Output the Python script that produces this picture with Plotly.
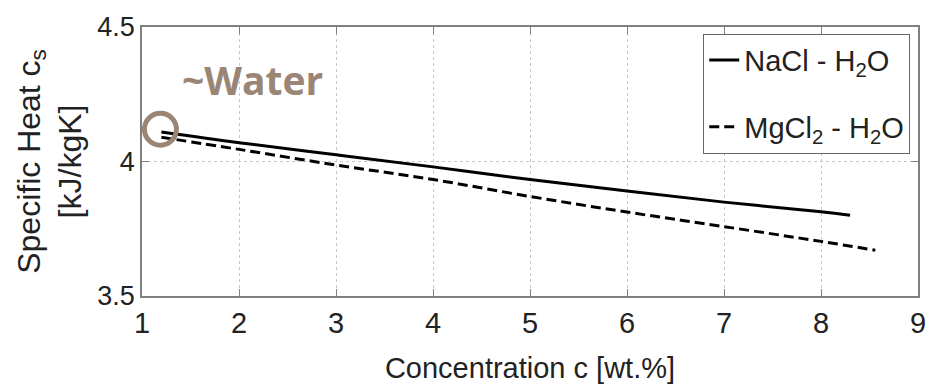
import plotly.graph_objects as go

# Data
nacl_c = [1.2, 2, 3, 4, 5, 6, 7, 8, 8.3]
nacl_cs = [4.11, 4.07, 4.025, 3.98, 3.933, 3.89, 3.849, 3.813, 3.80]
mgcl_c = [1.2, 2, 3, 4, 5, 6, 7, 8, 8.56]
mgcl_cs = [4.09, 4.045, 3.987, 3.933, 3.870, 3.812, 3.758, 3.703, 3.67]
x_ticks = [1, 2, 3, 4, 5, 6, 7, 8, 9]
y_ticks = [3.5, 4, 4.5]
y_tick_labels = ["3.5", "4", "4.5"]

AX = "#808080"
BROWN = "#9b8575"
FONT = "Liberation Sans, Arial, sans-serif"

fig = go.Figure()
fig.add_trace(go.Scatter(x=nacl_c, y=nacl_cs, mode="lines", name="NaCl - H<sub>2</sub>O",
                         legendgroup="a",
                         line=dict(color="black", width=3), line_shape="spline"))
fig.add_trace(go.Scatter(x=mgcl_c, y=mgcl_cs, mode="lines", name="MgCl<sub>2</sub> - H<sub>2</sub>O",
                         legendgroup="b",
                         line=dict(color="black", width=3, dash="10px,5px"), line_shape="spline"))
# water marker circle around first point
fig.add_trace(go.Scatter(x=[nacl_c[0] - 0.01], y=[nacl_cs[0] + 0.01], mode="markers", showlegend=False,
                         marker=dict(symbol="circle-open", size=32, color=BROWN,
                                     line=dict(color=BROWN, width=5))))

fig.add_annotation(x=1.39, y=4.305, xref="x", yref="y", text="<b>~Water</b>", showarrow=False,
                   xanchor="left", yanchor="middle",
                   font=dict(family="Open Sans, sans-serif", size=39, color=BROWN))

fig.update_layout(
    width=938, height=391,
    margin=dict(l=142, r=12, t=24, b=92),
    paper_bgcolor="white", plot_bgcolor="white",
    font=dict(family=FONT, color="#222"),
    showlegend=True,
    legend=dict(x=0.99, y=0.975, xanchor="right", yanchor="top",
                bordercolor="#666", borderwidth=1, bgcolor="white",
                font=dict(family=FONT, size=29, color="#222"),
                tracegroupgap=26, itemwidth=30),
)
fig.update_xaxes(range=[1, 9], tickvals=x_ticks, ticks="inside", ticklen=7, tickcolor=AX,
                 showline=True, linecolor=AX, linewidth=1.5, mirror="allticks",
                 showgrid=True, gridcolor="#c8c8c8", griddash="dot", gridwidth=1,
                 zeroline=False, tickfont=dict(family=FONT, size=29, color="#222"),
                 title=dict(text="Concentration c [wt.%]", font=dict(family=FONT, size=29, color="#222"),
                            standoff=20))
fig.update_yaxes(range=[3.5, 4.5], tickvals=y_ticks, ticktext=y_tick_labels, ticks="inside", ticklen=7,
                 tickcolor=AX, showline=True, linecolor=AX, linewidth=1.5, mirror="allticks",
                 showgrid=True, gridcolor="#c8c8c8", griddash="dot", gridwidth=1,
                 zeroline=False, tickfont=dict(family=FONT, size=27, color="#222"),
                 title=dict(text="Specific Heat c<sub>s</sub><br>[kJ/kgK]",
                            font=dict(family=FONT, size=32, color="#222"), standoff=6))

fig.write_html("out.html")
